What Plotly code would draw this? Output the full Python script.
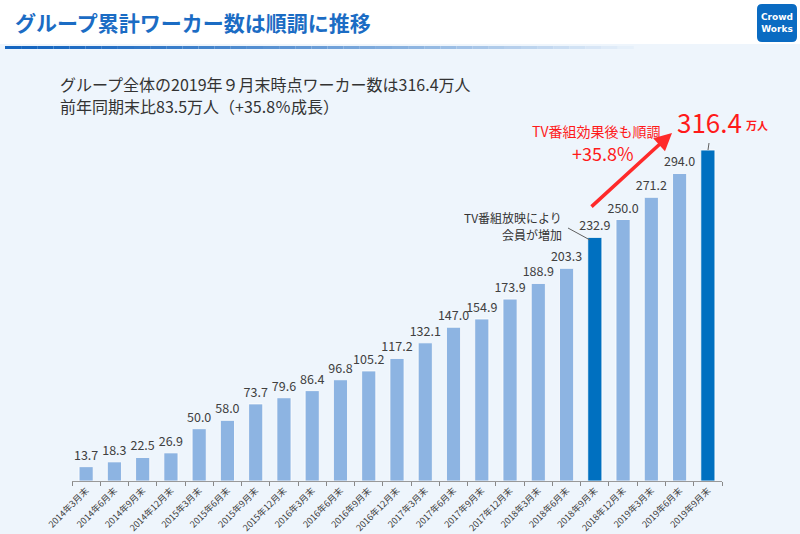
import plotly.graph_objects as go

categories = ["2014年3月末", "2014年6月末", "2014年9月末", "2014年12月末",
              "2015年3月末", "2015年6月末", "2015年9月末", "2015年12月末",
              "2016年3月末", "2016年6月末", "2016年9月末", "2016年12月末",
              "2017年3月末", "2017年6月末", "2017年9月末", "2017年12月末",
              "2018年3月末", "2018年6月末", "2018年9月末", "2018年12月末",
              "2019年3月末", "2019年6月末", "2019年9月末"]
values = [13.7, 18.3, 22.5, 26.9, 50.0, 58.0, 73.7, 79.6, 86.4, 96.8, 105.2,
          117.2, 132.1, 147.0, 154.9, 173.9, 188.9, 203.3, 232.9, 250.0,
          271.2, 294.0, 316.4]
highlight = ["2018年9月末", "2019年9月末"]

LIGHT = "#8DB4E2"
DARK = "#0070C0"
FONT = "Noto Sans CJK JP"
W, H = 800, 534
L, R, T, B = 72, 78, 60, 53
PH = H - T - B
YMAX = PH / 1.046

def px(x):
    return (x - L) / (W - L - R)

def py(y):
    return (H - B - y) / PH

colors = [DARK if c in highlight else LIGHT for c in categories]
# last bar's value is shown as the large red callout instead of a bar label
labels = [f"{v:.1f}" for v in values[:-1]] + [""]

fig = go.Figure(go.Bar(
    x=categories, y=values, marker=dict(color=colors, line=dict(color="white", width=0.8)),
    text=labels, textposition="outside", cliponaxis=False, constraintext="none",
    textfont=dict(family=FONT, size=12.5, color="#404040"),
    hoverinfo="x+y",
))

shapes = []
# white header
shapes.append(dict(type="rect", xref="paper", yref="paper", x0=px(0), x1=px(W),
                   y0=py(44), y1=py(0), fillcolor="white", line=dict(width=0), layer="below"))
# gradient underline
n = 40
x_start, x_end = 5, 650
c0 = (21, 101, 192)
c1 = (238, 245, 252)
for i in range(n):
    t = i / (n - 1)
    t2 = t ** 1.3
    col = tuple(int(c0[k] + (c1[k] - c0[k]) * t2) for k in range(3))
    xa = x_start + (x_end - x_start) * i / n
    xb = x_start + (x_end - x_start) * (i + 1) / n
    shapes.append(dict(type="rect", xref="paper", yref="paper", x0=px(xa), x1=px(xb),
                       y0=py(49), y1=py(46), fillcolor="rgb(%d,%d,%d)" % col,
                       line=dict(width=0), layer="below"))

# logo: rounded square (path in paper coords)
def rounded_rect(x0, y0, x1, y1, r):
    pts = [
        f"M {px(x0 + r)} {py(y0)}",
        f"L {px(x1 - r)} {py(y0)}",
        f"Q {px(x1)} {py(y0)} {px(x1)} {py(y0 + r)}",
        f"L {px(x1)} {py(y1 - r)}",
        f"Q {px(x1)} {py(y1)} {px(x1 - r)} {py(y1)}",
        f"L {px(x0 + r)} {py(y1)}",
        f"Q {px(x0)} {py(y1)} {px(x0)} {py(y1 - r)}",
        f"L {px(x0)} {py(y0 + r)}",
        f"Q {px(x0)} {py(y0)} {px(x0 + r)} {py(y0)}",
        "Z",
    ]
    return " ".join(pts)

shapes.append(dict(type="path", xref="paper", yref="paper", path=rounded_rect(757, 4, 797, 42, 5),
                   fillcolor="#0A6BC2", line=dict(width=0)))
# leader line for TV annotation
shapes.append(dict(type="line", xref="paper", yref="paper", x0=px(568), y0=py(228),
                   x1=px(590), y1=py(240), line=dict(color="#606060", width=1)))
# small tick above last bar
shapes.append(dict(type="line", xref="paper", yref="paper", x0=px(709), y0=py(143),
                   x1=px(708), y1=py(150), line=dict(color="#606060", width=1)))

def ann(**kw):
    d = dict(xref="paper", yref="paper", showarrow=False)
    d.update(kw)
    return d

annotations = [
    ann(text="<b>グループ累計ワーカー数は順調に推移</b>", x=px(13), y=py(22), xanchor="left",
        yanchor="middle", font=dict(family=FONT, size=21, color="#1B6CC4")),
    ann(text="<b>Crowd<br>Works</b>", x=px(777), y=py(23), xanchor="center", yanchor="middle",
        font=dict(family="DejaVu Sans", size=9, color="white")),
    ann(text="グループ全体の2019年９月末時点ワーカー数は316.4万人", x=px(58), y=py(84),
        xanchor="left", yanchor="middle", font=dict(family=FONT, size=16, color="#333333")),
    ann(text="前年同期末比83.5万人（+35.8％成長）", x=px(58), y=py(106),
        xanchor="left", yanchor="middle", font=dict(family=FONT, size=16, color="#333333")),
    ann(text="TV番組放映により", x=px(564), y=py(217), xanchor="right", yanchor="middle",
        font=dict(family=FONT, size=12, color="#333333")),
    ann(text="会員が増加", x=px(564), y=py(234), xanchor="right", yanchor="middle",
        font=dict(family=FONT, size=12, color="#333333")),
    ann(text="TV番組効果後も順調", x=px(596), y=py(131), xanchor="center", yanchor="middle",
        font=dict(family=FONT, size=14, color="#FF1A1A")),
    ann(text="+35.8%", x=px(603), y=py(153), xanchor="center", yanchor="middle",
        font=dict(family=FONT, size=18, color="#FF1A1A")),
    ann(text="316.4", x=px(709), y=py(121), xanchor="center", yanchor="middle",
        font=dict(family=FONT, size=26, color="#FF1A1A")),
    ann(text="<b>万人</b>", x=px(744), y=py(125), xanchor="left", yanchor="middle",
        font=dict(family=FONT, size=11, color="#FF1A1A")),
    ann(text="", x=px(672), y=py(133), ax=590 - 672, ay=208 - 133, axref="pixel", ayref="pixel",
        showarrow=True, arrowhead=2, arrowsize=1, arrowwidth=3.5, arrowcolor="#FF2A2A"),
]

fig.update_layout(
    width=W, height=H,
    margin=dict(l=L, r=R, t=T, b=B, autoexpand=False),
    paper_bgcolor="#EEF5FC", plot_bgcolor="rgba(0,0,0,0)",
    bargap=0.5, showlegend=False,
    shapes=shapes, annotations=annotations,
    xaxis=dict(type="category", tickangle=-45, tickson="boundaries", ticks="outside",
               ticklen=4, tickcolor="#888888", showline=True, linecolor="#999999",
               linewidth=1, showgrid=False,
               tickfont=dict(family=FONT, size=9, color="#404040")),
    yaxis=dict(range=[0, YMAX], visible=False, showgrid=False, zeroline=False),
)

fig.write_html("out.html", config={"displayModeBar": False},
               post_script="document.body.style.margin='0';document.body.style.overflow='hidden';")
